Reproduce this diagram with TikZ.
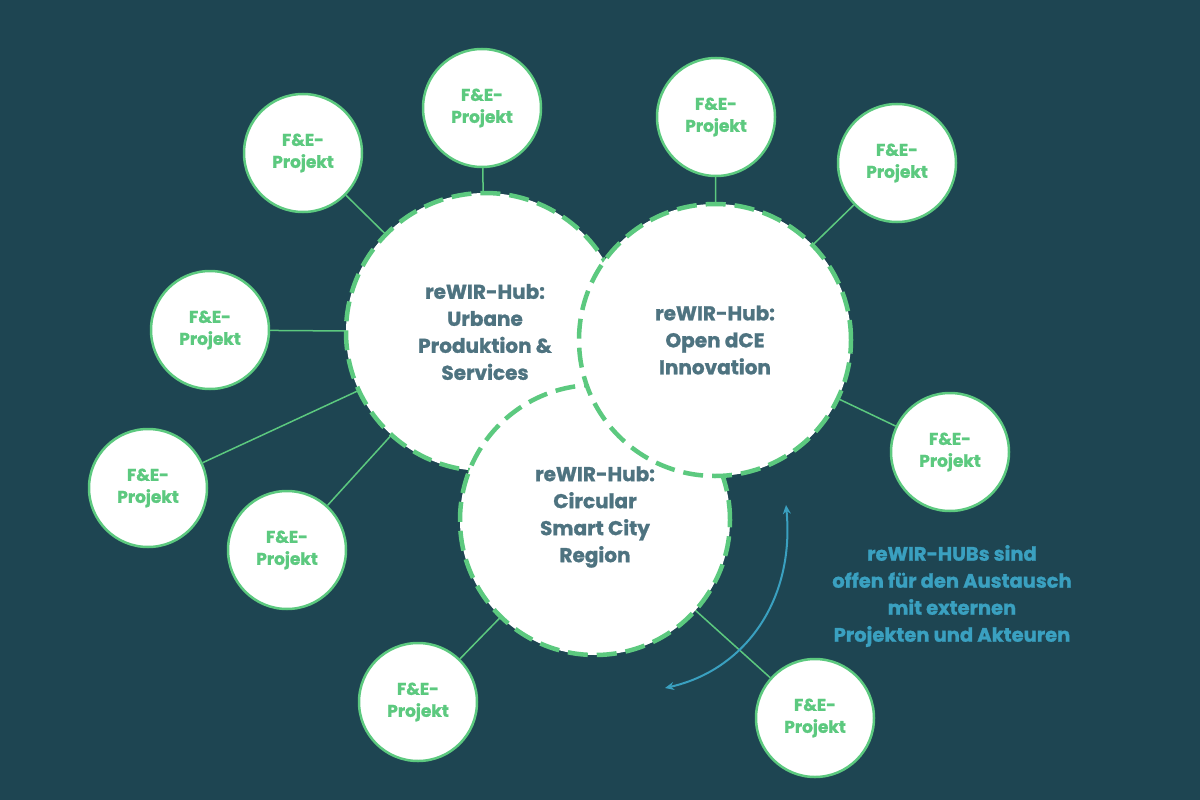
\documentclass[tikz,border=0pt]{standalone}
\usepackage{fontspec}
\setmainfont{Poppins}[FakeBold=1.2]
\usetikzlibrary{arrows.meta}
\begin{document}
\begin{tikzpicture}[x=1pt,y=-1pt,
  hub/.style={circle,fill=white,draw=grn,line width=4.5pt,dash pattern=on 20pt off 9pt,minimum size=#1,inner sep=0pt},
  hubtxt/.style={align=center,text=slate,font=\fontsize{20}{27}\selectfont\bfseries},
  proj/.style={circle,fill=white,draw=grn,line width=2.5pt,minimum size=118pt,inner sep=0pt,align=center,text=grn,font=\fontsize{17}{22}\selectfont\bfseries},
  link/.style={draw=grn,line width=1.5pt}]
\definecolor{bg}{HTML}{1E4552}
\definecolor{grn}{HTML}{5CC97F}
\definecolor{slate}{HTML}{4E7380}
\definecolor{blu}{HTML}{3AA0C0}
\fill[bg] (0,0) rectangle (1200,800);
\useasboundingbox (0,0) rectangle (1200,800);
\coordinate (U) at (485,332);
\coordinate (O) at (715,340);
\coordinate (C) at (595,520);
% small projects
\node[proj] (p1) at (482,108) {F\&E-\\Projekt};
\node[proj] (p2) at (303,153) {F\&E-\\Projekt};
\node[proj] (p3) at (210,330) {F\&E-\\Projekt};
\node[proj] (p4) at (148,488) {F\&E-\\Projekt};
\node[proj] (p5) at (287,550) {F\&E-\\Projekt};
\node[proj] (p6) at (418,702) {F\&E-\\Projekt};
\node[proj] (p7) at (716,117) {F\&E-\\Projekt};
\node[proj] (p8) at (897,163) {F\&E-\\Projekt};
\node[proj] (p9) at (950,452) {F\&E-\\Projekt};
\node[proj] (p10) at (815,718) {F\&E-\\Projekt};
\path[link] (p1) -- (U); \path[link] (p2) -- (U); \path[link] (p3) -- (U);
\path[link] (p4) -- (U); \path[link] (p5) -- (U);
\path[link] (p6) -- (C); \path[link] (p10) -- (C);
\path[link] (p7) -- (O); \path[link] (p8) -- (O); \path[link] (p9) -- (O);
% hubs
\node[hub=278pt] (hu) at (U) {};
\node[hub=270pt] (hc) at (C) {};
\node[hub=272pt] (ho) at (O) {};
\node[hubtxt] at (485,332) {reWIR-Hub:\\Urbane\\Produktion \&\\Services};
\node[hubtxt] at (715,340) {reWIR-Hub:\\Open dCE\\Innovation};
\node[hubtxt] at (595,517) {reWIR-Hub:\\Circular\\Smart City\\Region};
% arrow
\coordinate (a1) at (786,505);
\coordinate (a2) at (665,688);
\draw[blu,line width=2pt,<->,>={Stealth[length=9pt,width=8pt]}] (a1) .. controls (795,600) and (745,670) .. (a2);
\node[align=center,text=blu,font=\fontsize{19.5}{27}\selectfont\bfseries] (t) at (952,596) {reWIR-HUBs sind\\offen für den Austausch\\mit externen\\Projekten und Akteuren};
\end{tikzpicture}
\end{document}
